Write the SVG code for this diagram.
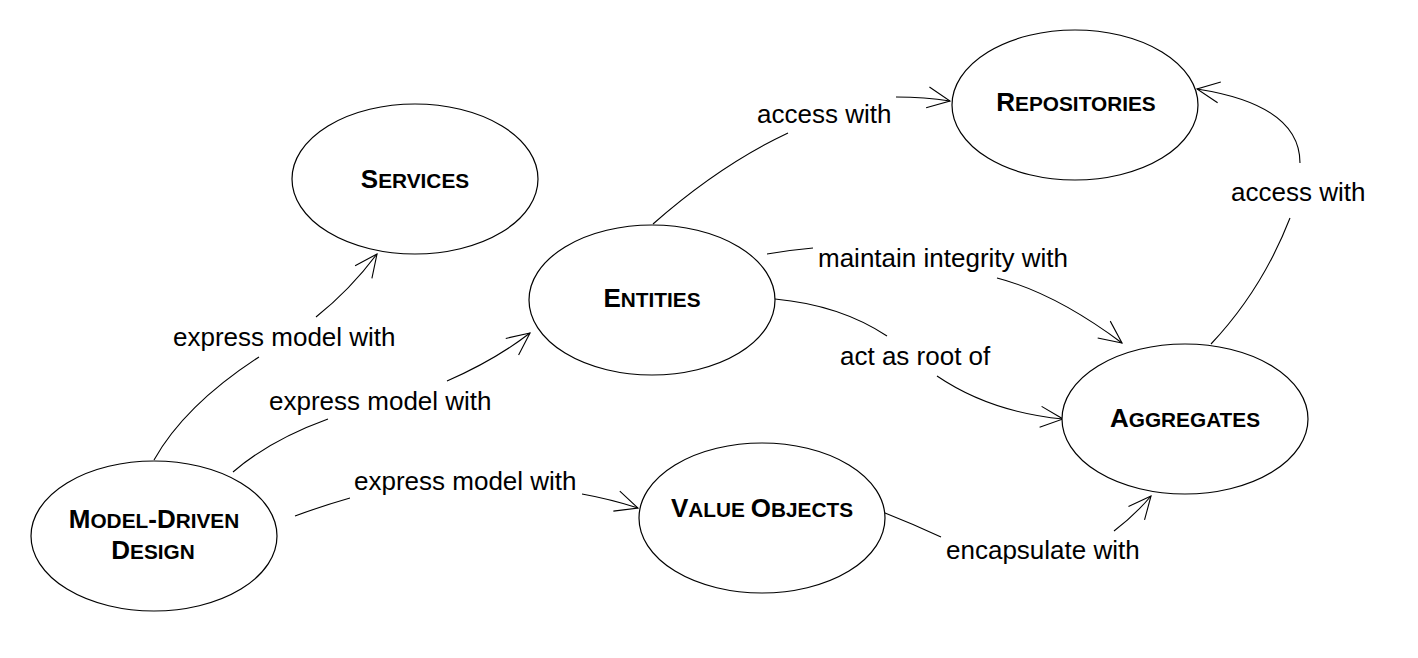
<svg xmlns="http://www.w3.org/2000/svg" width="1418" height="658" viewBox="0 0 1418 658">
<style>
.node ellipse{fill:#fff;stroke:#000;stroke-width:1.2}
.nl{font-family:"Liberation Sans",Arial,sans-serif;font-weight:bold;font-size:26px;fill:#000;text-anchor:middle}
.sc{font-size:20.8px}
.lbl{font-family:"Liberation Sans",Arial,sans-serif;font-size:26px;fill:#000}
.c path{fill:none;stroke:#000;stroke-width:1.1}
</style>
<defs>
<marker id="arr" markerUnits="userSpaceOnUse" markerWidth="40" markerHeight="40" refX="0" refY="0" viewBox="-30 -20 40 40" orient="auto" overflow="visible">
<path d="M-22.5,-10.5 L0,0 L-22.5,10.5" fill="none" stroke="#000" stroke-width="1.1"/>
</marker>
</defs>
<rect width="1418" height="658" fill="#fff"/>
<g id="connectors" class="c">
<g id="c-mdd-services">
<path d="M154,460 Q185,405 259,357"/>
<path d="M316,317 Q350,290 377,254" marker-end="url(#arr)"/>
<text class="lbl" x="173" y="346">express model with</text>
</g>
<g id="c-mdd-entities">
<path d="M233,472 Q270,440 328,419"/>
<path d="M447,381 Q495,360 530,333" marker-end="url(#arr)"/>
<text class="lbl" x="269" y="410">express model with</text>
</g>
<g id="c-mdd-vo">
<path d="M295,516 Q322,506 350,498"/>
<path d="M582,494 Q610,499 638,508" marker-end="url(#arr)"/>
<text class="lbl" x="354" y="490">express model with</text>
</g>
<g id="c-entities-repos">
<path d="M653,224 Q720,165 788,133"/>
<path d="M896,97 Q925,97 950,101" marker-end="url(#arr)"/>
<text class="lbl" x="757" y="123">access with</text>
</g>
<g id="c-entities-aggr-integrity">
<path d="M767,254 Q790,250 813,248"/>
<path d="M997,278 Q1055,293 1122,343" marker-end="url(#arr)"/>
<text class="lbl" x="818" y="267">maintain integrity with</text>
</g>
<g id="c-entities-aggr-root">
<path d="M775,299 Q840,305 887,336"/>
<path d="M937,376 Q990,412 1063,419" marker-end="url(#arr)"/>
<text class="lbl" x="840" y="365">act as root of</text>
</g>
<g id="c-aggr-repos">
<path d="M1211,344 Q1262,290 1290,218"/>
<path d="M1300,163 Q1300,105 1197,89" marker-end="url(#arr)"/>
<text class="lbl" x="1231" y="201">access with</text>
</g>
<g id="c-vo-aggr">
<path d="M885,513 Q913,524 941,537"/>
<path d="M1114,531 Q1135,515 1151,496" marker-end="url(#arr)"/>
<text class="lbl" x="946" y="559">encapsulate with</text>
</g>
</g>
<g id="services" class="node">
<ellipse cx="415" cy="179" rx="123" ry="75"/>
<text class="nl" x="415" y="188">S<tspan class="sc">ERVICES</tspan></text>
</g>
<g id="repositories" class="node">
<ellipse cx="1075" cy="105" rx="123" ry="75"/>
<text class="nl" x="1076" y="111">R<tspan class="sc">EPOSITORIES</tspan></text>
</g>
<g id="entities" class="node">
<ellipse cx="652" cy="300" rx="123" ry="75"/>
<text class="nl" x="652" y="307">E<tspan class="sc">NTITIES</tspan></text>
</g>
<g id="aggregates" class="node">
<ellipse cx="1185" cy="419" rx="123" ry="75"/>
<text class="nl" x="1185" y="427">A<tspan class="sc">GGREGATES</tspan></text>
</g>
<g id="value-objects" class="node">
<ellipse cx="762" cy="518" rx="123" ry="75"/>
<text class="nl" x="762" y="517">V<tspan class="sc">ALUE </tspan>O<tspan class="sc">BJECTS</tspan></text>
</g>
<g id="model-driven-design" class="node">
<ellipse cx="154" cy="536" rx="123" ry="75"/>
<text class="nl" x="154" y="528">M<tspan class="sc">ODEL</tspan>-D<tspan class="sc">RIVEN</tspan></text>
<text class="nl" x="153" y="559">D<tspan class="sc">ESIGN</tspan></text>
</g>
</svg>
